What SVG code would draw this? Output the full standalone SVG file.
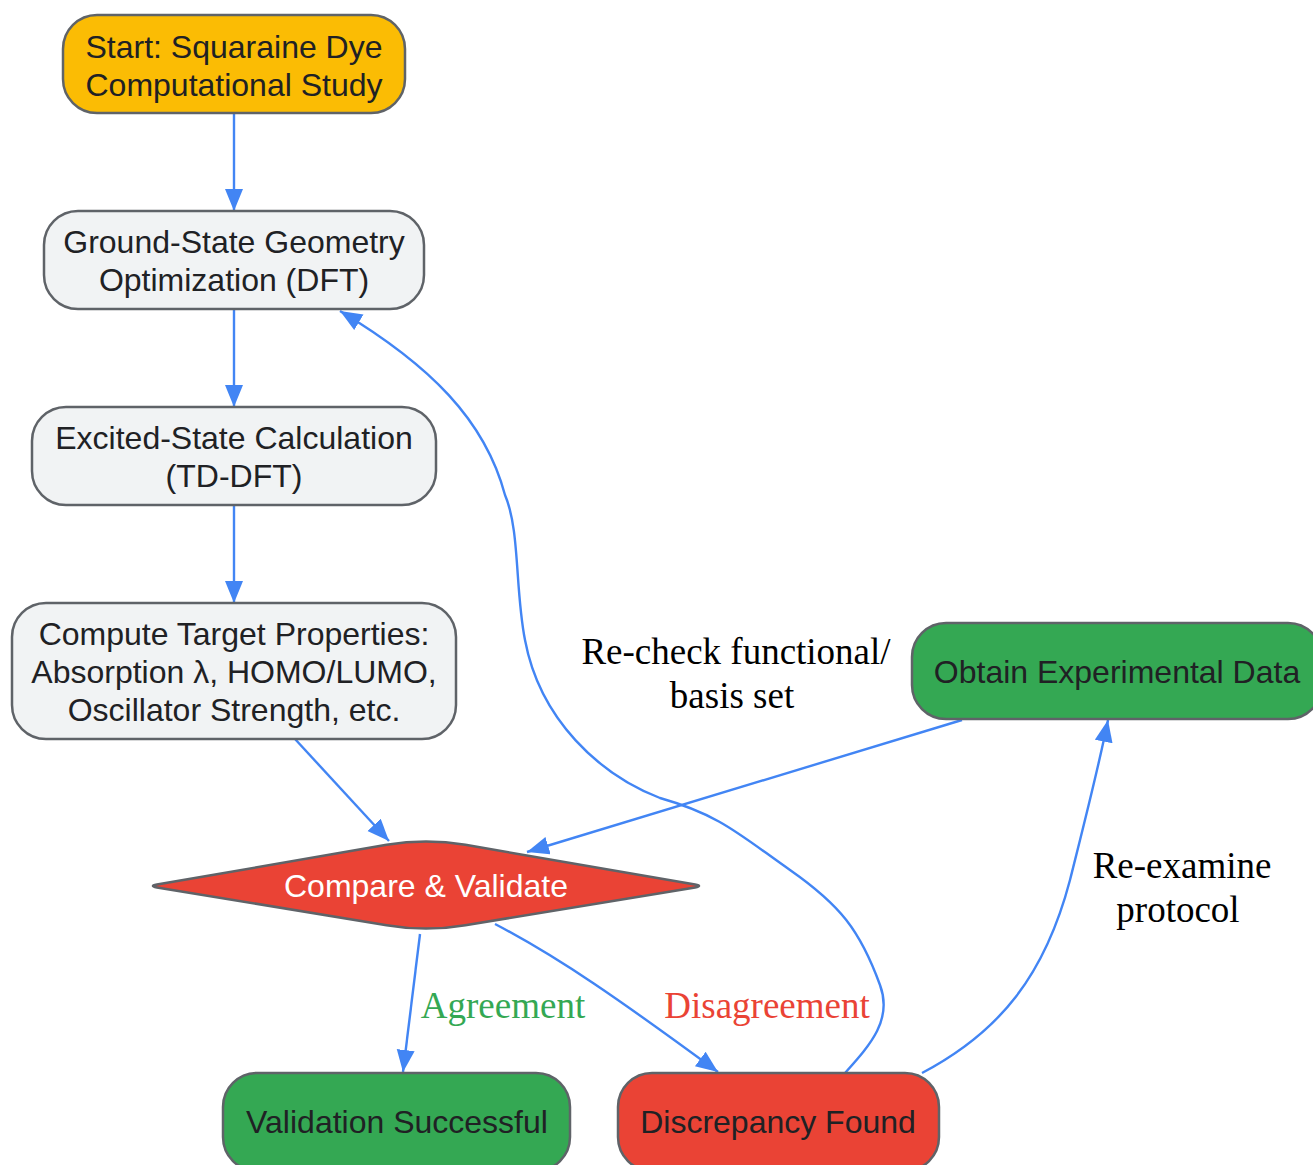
<svg xmlns="http://www.w3.org/2000/svg" width="1313" height="1165" viewBox="0 0 1313 1165">
<style>
.node{stroke:#5f6368;stroke-width:2.5}
.t{font-family:"Liberation Sans",Arial,sans-serif;font-size:32px;fill:#202124;text-anchor:middle;dominant-baseline:central}
.w{fill:#ffffff}
.e{fill:none;stroke:#4285F4;stroke-width:2.4}
.l{font-family:"Liberation Serif","Times New Roman",serif;font-size:37px;fill:#000;text-anchor:middle;dominant-baseline:central}
</style>
<defs>
<marker id="ah" markerUnits="userSpaceOnUse" markerWidth="24" markerHeight="20" refX="22" refY="9" orient="auto">
<path d="M0,0 L22,9 L0,18 z" fill="#4285F4"/>
</marker>
</defs>
<rect width="1313" height="1165" fill="#ffffff"/>
<g id="edges">
<path class="e" d="M234,113 L234,211" marker-end="url(#ah)"/>
<path class="e" d="M234,309 L234,407" marker-end="url(#ah)"/>
<path class="e" d="M234,505 L234,603" marker-end="url(#ah)"/>
<path class="e" d="M295,739 L389,841" marker-end="url(#ah)"/>
<path class="e" d="M962,720 L527,852" marker-end="url(#ah)"/>
<path class="e" d="M420,934 L403,1072" marker-end="url(#ah)"/>
<path class="e" d="M495,924 C560,958 620,1000 718,1072" marker-end="url(#ah)"/>
<path class="e" d="M845,1073 C870,1045 893,1020 880,985 C860,930 840,905 790,870 C740,835 720,815 660,798 C600,775 540,720 525,640 C515,590 520,530 505,495 C485,420 430,365 340,311" marker-end="url(#ah)"/>
<path class="e" d="M922,1073 C1000,1032 1045,975 1070,880 C1085,820 1098,770 1108,720" marker-end="url(#ah)"/>
</g>
<g id="start">
<rect class="node" x="63" y="15" width="342" height="98" rx="34" fill="#FBBC04"/>
<text class="t" x="234" y="47">Start: Squaraine Dye</text>
<text class="t" x="234" y="85">Computational Study</text>
</g>
<g id="ground">
<rect class="node" x="44" y="211" width="380" height="98" rx="34" fill="#F1F3F4"/>
<text class="t" x="234" y="242">Ground-State Geometry</text>
<text class="t" x="234" y="280">Optimization (DFT)</text>
</g>
<g id="excited">
<rect class="node" x="32" y="407" width="404" height="98" rx="34" fill="#F1F3F4"/>
<text class="t" x="234" y="438">Excited-State Calculation</text>
<text class="t" x="234" y="476">(TD-DFT)</text>
</g>
<g id="compute">
<rect class="node" x="12" y="603" width="444" height="136" rx="34" fill="#F1F3F4"/>
<text class="t" x="234" y="634">Compute Target Properties:</text>
<text class="t" x="234" y="672">Absorption λ, HOMO/LUMO,</text>
<text class="t" x="234" y="710">Oscillator Strength, etc.</text>
</g>
<g id="compare">
<path class="node" fill="#EA4335" d="M386.6,844.8 Q426,838 465.4,844.8 L695.1,884.6 Q703,886 695.1,887.4 L465.4,925.2 Q426,932 386.6,925.2 L156.9,887.4 Q149,886 156.9,884.6 Z"/>
<text class="t w" x="426" y="886">Compare &amp; Validate</text>
</g>
<g id="obtain">
<rect class="node" x="912" y="623" width="410" height="96" rx="34" fill="#34A853"/>
<text class="t" x="1117" y="672">Obtain Experimental Data</text>
</g>
<g id="success">
<rect class="node" x="223" y="1073" width="347" height="98" rx="34" fill="#34A853"/>
<text class="t" x="397" y="1122">Validation Successful</text>
</g>
<g id="discrepancy">
<rect class="node" x="618" y="1073" width="321" height="98" rx="34" fill="#EA4335"/>
<text class="t" x="778" y="1122">Discrepancy Found</text>
</g>
<g id="labels">
<text class="l" x="736" y="651">Re-check functional/</text>
<text class="l" x="732" y="695">basis set</text>
<text class="l" x="1182" y="865">Re-examine</text>
<text class="l" x="1178" y="909">protocol</text>
<text class="l" x="503" y="1005" style="fill:#34A853">Agreement</text>
<text class="l" x="767" y="1005" style="fill:#EA4335">Disagreement</text>
</g>
</svg>
